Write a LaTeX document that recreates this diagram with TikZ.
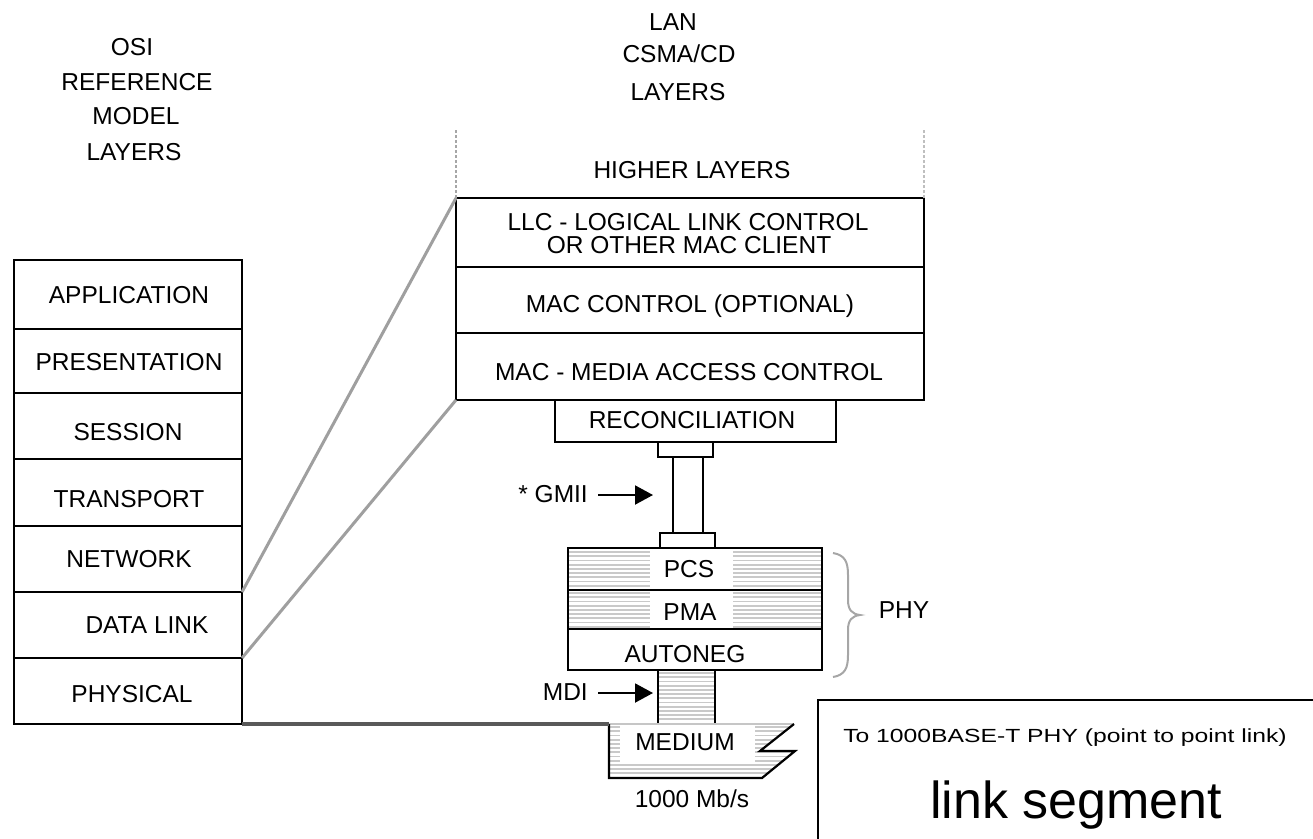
\documentclass[tikz,border=0pt]{standalone}
\usepackage{fontspec}
\setmainfont{Liberation Sans}
\usetikzlibrary{arrows.meta}
\begin{document}
\begin{tikzpicture}[x=1pt,y=-1pt,
  lbl/.style={font=\fontsize{24.5}{29}\selectfont, inner sep=0, anchor=base, text=black},
  box/.style={draw, line width=2.2pt, inner sep=0, outer sep=0, anchor=north west},
  hatch/.style={line width=1.8pt, draw=gray!42},
  arr/.style={line width=2pt, -{Triangle[length=18pt,width=19pt]}},
  grayline/.style={line width=3pt, draw=gray!75},
  dotline/.style={line width=2.5pt, draw=gray!70, dash pattern=on 3pt off 2pt}]
\useasboundingbox (0,0) rectangle (1313,838);

% ---------- hatching ----------
\foreach \yy in {552,556.2,...,588} {
  \draw[hatch] (569,\yy) -- (650,\yy);
  \draw[hatch] (733,\yy) -- (821,\yy);
}
\foreach \yy in {593,597.2,...,627} {
  \draw[hatch] (569,\yy) -- (650,\yy);
  \draw[hatch] (733,\yy) -- (821,\yy);
}
\foreach \yy in {673,677.2,...,722} {
  \draw[hatch] (659,\yy) -- (714,\yy);
}
\begin{scope}
  \clip (609,724) -- (794,724) -- (760,751) -- (795,751) -- (762,778) -- (609,778) -- cycle;
  \foreach \yy in {727,731.2,...,777} {
    \draw[hatch] (609,\yy) -- (800,\yy);
  }
  \fill[white] (620,723) rectangle (755,763);
\end{scope}

% ---------- OSI stack ----------
\node[box, minimum width=228pt, minimum height=69pt] (app)   at (14,260) {};
\node[box, minimum width=228pt, minimum height=64pt] (pres)  at (14,329) {};
\node[box, minimum width=228pt, minimum height=66pt] (sess)  at (14,393) {};
\node[box, minimum width=228pt, minimum height=67pt] (trans) at (14,459) {};
\node[box, minimum width=228pt, minimum height=66pt] (netw)  at (14,526) {};
\node[box, minimum width=228pt, minimum height=66pt] (dlink) at (14,592) {};
\node[box, minimum width=228pt, minimum height=66pt] (phys)  at (14,658) {};

\node[lbl] (tApp)   at (129,303) {APPLICATION};
\node[lbl] (tPres)  at (129,370) {PRESENTATION};
\node[lbl] (tSess)  at (128,440) {SESSION};
\node[lbl] (tTrans) at (129,507) {TRANSPORT};
\node[lbl] (tNetw)  at (129,567) {NETWORK};
\node[lbl] (tDlink) at (147,633) {DATA LINK};
\node[lbl] (tPhys)  at (132,702) {PHYSICAL};

\node[lbl] (o1) at (132,55)  {OSI};
\node[lbl] (o2) at (137,90)  {REFERENCE};
\node[lbl] (o3) at (136,124) {MODEL};
\node[lbl] (o4) at (134,160) {LAYERS};

% ---------- LAN stack ----------
\node[lbl] (l1) at (673,30)  {LAN};
\node[lbl] (l2) at (679,62)  {CSMA/CD};
\node[lbl] (l3) at (678,100) {LAYERS};

\node[box, minimum width=468pt, minimum height=69pt] (llc)  at (456,198) {};
\node[box, minimum width=468pt, minimum height=66pt] (macc) at (456,267) {};
\node[box, minimum width=468pt, minimum height=67pt] (mac)  at (456,333) {};
\node[box, minimum width=281pt, minimum height=42pt] (recon) at (555,400) {};
\node[box, minimum width=55pt, minimum height=15pt] (gtop) at (658,442) {};
\node[box, minimum width=30pt, minimum height=76pt] (gbar) at (673,457) {};
\node[box, minimum width=55pt, minimum height=15pt] (gbot) at (660,533) {};
\node[box, minimum width=254pt, minimum height=42pt] (pcs)  at (568,548) {};
\node[box, minimum width=254pt, minimum height=39pt] (pma)  at (568,590) {};
\node[box, minimum width=254pt, minimum height=41pt] (aneg) at (568,629) {};
\node[box, minimum width=57pt, minimum height=54pt] (mdib) at (658,670) {};

\draw[dotline] (llc.north west) -- ++(0,-68);
\draw[dotline, draw=gray!50] (llc.north east) -- ++(0,-68);

\node[lbl] (tHigh)  at (692,178) {HIGHER LAYERS};
\node[lbl] (tLlc1)  at (688,230) {LLC - LOGICAL LINK CONTROL};
\node[lbl] (tLlc2)  at (689,253) {OR OTHER MAC CLIENT};
\node[lbl] (tMacc)  at (690,312) {MAC CONTROL (OPTIONAL)};
\node[lbl] (tMac)   at (689,380) {MAC - MEDIA ACCESS CONTROL};
\node[lbl] (tRecon) at (692,428) {RECONCILIATION};
\node[lbl] (tPcs)   at (689,577) {PCS};
\node[lbl] (tPma)   at (690,620) {PMA};
\node[lbl] (tAneg)  at (685,662) {AUTONEG};
\node[lbl] (tPhy)   at (904,618) {PHY};

\node[lbl, anchor=base east] (tGmii) at (588,502) {* GMII};
\node[lbl, anchor=base east] (tMdi)  at (588,700) {MDI};
\coordinate (gA) at (598,495);
\coordinate (gB) at (653,495);
\coordinate (mA) at (598,693);
\coordinate (mB) at (653,693);
\draw[arr] (gA) -- (gB);
\draw[arr] (mA) -- (mB);

% brace
\draw[line width=2pt, draw=gray!70]
  (833,553) .. controls (845,555) and (848,562) .. (848,575) -- (848,600)
  .. controls (848,610) and (852,614) .. (860,615)
  .. controls (852,616) and (848,620) .. (848,630) -- (848,655)
  .. controls (848,668) and (845,675) .. (833,677);

% ---------- medium ----------
\coordinate (medTL) at (609,724);
\draw[line width=2pt, draw=gray!45] (medTL) -- (794,724);
\draw[line width=2.2pt, line join=miter]
  (794,724) -- (760,751) -- (795,751) -- (762,778) -- (609,778) -- (medTL);
\node[lbl] (tMed)  at (685,750) {MEDIUM};
\node[lbl] (tRate) at (692,807) {1000 Mb/s};

% ---------- connectors ----------
\draw[grayline] (netw.south east) -- (llc.north west);
\draw[grayline] (dlink.south east) -- (mac.south west);
\draw[line width=4pt, draw=black!65] (phys.south east) -- (medTL);

% ---------- link segment box ----------
\draw[line width=2.5pt] (818,840) -- (818,700) -- (1315,700);
\node[lbl, font=\fontsize{19}{23}\selectfont] (tTo) at (1065,742)
  {\scalebox{1.3}[1]{To 1000BASE-T PHY (point to point link)}};
\node[lbl, font=\fontsize{52}{60}\selectfont] (tLink) at (1076,818) {link segment};
\end{tikzpicture}
\end{document}
